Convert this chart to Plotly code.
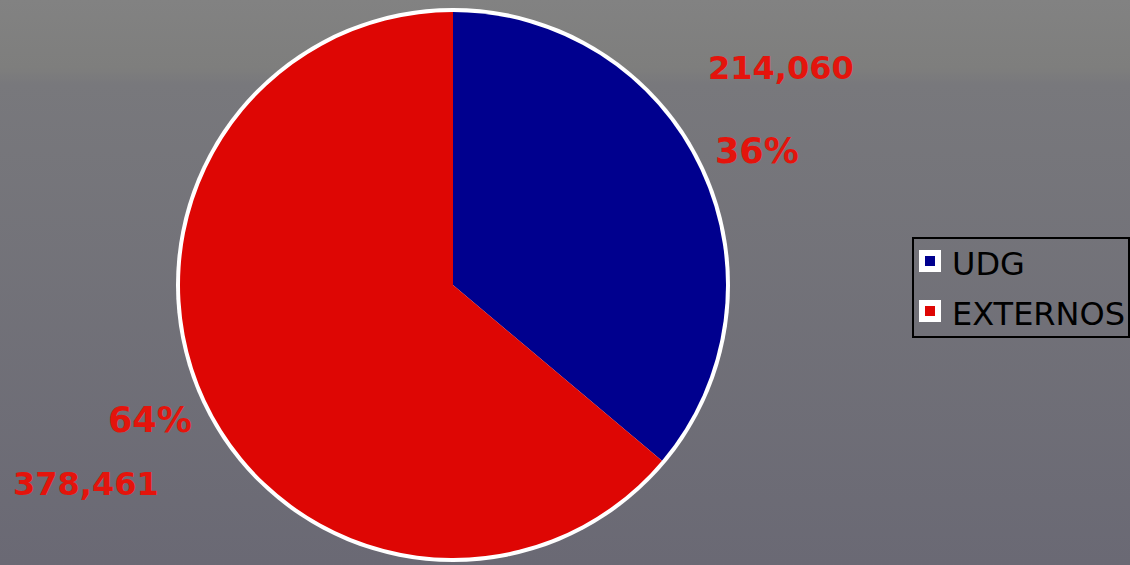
import base64
import plotly.graph_objects as go

# ---- data ----
categories = ["UDG", "EXTERNOS"]
values = [214060, 378461]
slice_colors = ["#00008e", "#de0604"]

W, H = 1130, 565
total = sum(values)
pcts = [round(v / total * 100) for v in values]

def px(x):
    return x / W

def py(y):
    return 1 - y / H

fig = go.Figure()

# white outer ring (slightly larger pie behind)
cx, cy, r = 453, 285, 273
ring = r + 4
fig.add_trace(go.Pie(
    values=[1], labels=["ring"], marker=dict(colors=["#ffffff"]),
    domain=dict(x=[px(cx - ring), px(cx + ring)], y=[py(cy + ring), py(cy - ring)]),
    textinfo="none", hoverinfo="skip", showlegend=False, sort=False,
))
fig.add_trace(go.Pie(
    values=values, labels=categories, marker=dict(colors=slice_colors, line=dict(width=0)),
    domain=dict(x=[px(cx - r), px(cx + r)], y=[py(cy + r), py(cy - r)]),
    direction="clockwise", rotation=0, sort=False,
    textinfo="none", showlegend=False,
))

# background gradient
svg = ('<svg xmlns="http://www.w3.org/2000/svg" width="1130" height="565" preserveAspectRatio="none">'
       '<defs><linearGradient id="g" x1="0" y1="0" x2="0" y2="1">'
       '<stop offset="0" stop-color="#828282"/><stop offset="0.12" stop-color="#7e7e7d"/>'
       '<stop offset="0.15" stop-color="#78787c"/><stop offset="1" stop-color="#6a6974"/>'
       '</linearGradient></defs><rect width="1130" height="565" fill="url(#g)"/></svg>')
src = "data:image/svg+xml;base64," + base64.b64encode(svg.encode()).decode()

label_font = dict(family="DejaVu Sans", size=32, color="#e4140c")
annotations = []
# value and percent labels
val_pos = [(781, 68), (86, 484)]
pct_pos = [(757, 151), (150, 420)]
for i in range(len(values)):
    annotations.append(dict(x=px(val_pos[i][0]), y=py(val_pos[i][1]), xref="paper", yref="paper",
                            text=f"<b>{values[i]:,}</b>", showarrow=False, font=label_font,
                            xanchor="center", yanchor="middle"))
    annotations.append(dict(x=px(pct_pos[i][0]), y=py(pct_pos[i][1]), xref="paper", yref="paper",
                            text=f"<b>{pcts[i]}%</b>", showarrow=False,
                            font=dict(label_font, size=35),
                            xanchor="center", yanchor="middle"))

# manual legend
shapes = [dict(type="rect", xref="paper", yref="paper", x0=px(913), x1=px(1129), y0=py(337), y1=py(238),
               line=dict(color="black", width=2), fillcolor="rgba(0,0,0,0)")]
leg_y = [261, 311]
for i, cat in enumerate(categories):
    yc = leg_y[i]
    shapes.append(dict(type="rect", xref="paper", yref="paper", x0=px(919), x1=px(941),
                       y0=py(yc + 11), y1=py(yc - 11), line=dict(width=0), fillcolor="white"))
    shapes.append(dict(type="rect", xref="paper", yref="paper", x0=px(925), x1=px(935),
                       y0=py(yc + 5), y1=py(yc - 5), line=dict(width=0), fillcolor=slice_colors[i]))
    annotations.append(dict(x=px(950), y=py(yc + 3), xref="paper", yref="paper", text=cat,
                            showarrow=False, xanchor="left", yanchor="middle",
                            font=dict(family="DejaVu Sans", size=32, color="black")))

fig.update_layout(
    width=W, height=H, margin=dict(l=0, r=0, t=0, b=0),
    paper_bgcolor="#757579", plot_bgcolor="rgba(0,0,0,0)",
    images=[dict(source=src, xref="paper", yref="paper", x=0, y=1, sizex=1, sizey=1,
                 sizing="stretch", layer="below", xanchor="left", yanchor="top")],
    annotations=annotations, shapes=shapes, showlegend=False,
)
fig.write_html("out.html", config={"displayModeBar": False},
               post_script="document.body.style.margin='0px';")
